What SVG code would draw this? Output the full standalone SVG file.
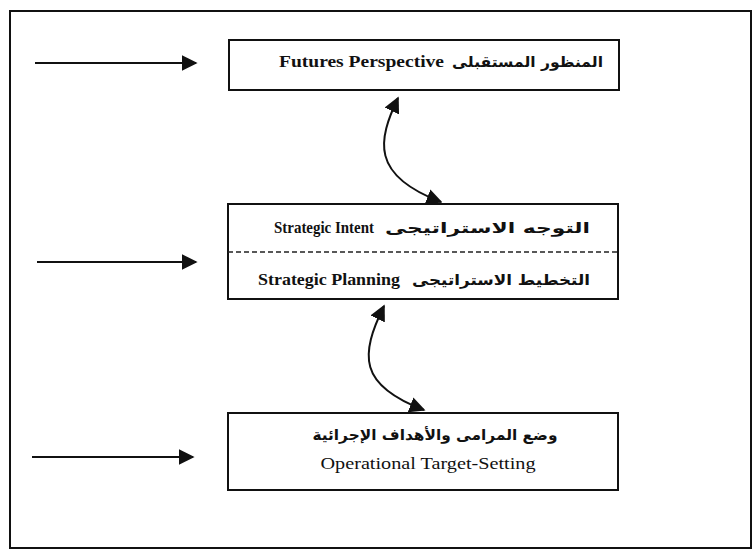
<svg xmlns="http://www.w3.org/2000/svg" width="754" height="550" viewBox="0 0 754 550">
  <style>
    .frame { fill: none; stroke: #111; stroke-width: 2; }
    .box { fill: #fff; stroke: #111; stroke-width: 2; }
    .divider { stroke: #222; stroke-width: 1.3; stroke-dasharray: 5 3; }
    .conn { fill: none; stroke: #111; stroke-width: 2; }
    .en { font-family: "Liberation Serif", "Times New Roman", serif; font-size: 16px; fill: #111; }
    .enb { font-weight: bold; }
    .ar { font-family: "DejaVu Sans", "Noto Sans", sans-serif; font-weight: bold; font-size: 15px; fill: #111; }
  </style>
  <defs>
    <marker id="head" viewBox="0 0 10 10" refX="9" refY="5" markerWidth="8" markerHeight="8" markerUnits="strokeWidth" orient="auto-start-reverse">
      <path d="M0,0 L10,5 L0,10 Z" fill="#111"/>
    </marker>
  </defs>

  <rect x="0" y="0" width="754" height="550" fill="#fff"/>

  <!-- outer frame -->
  <rect class="frame" x="10" y="11" width="741" height="537"/>

  <!-- top level -->
  <g id="futures-perspective">
    <rect class="box" x="229" y="40" width="390" height="50"/>
    <text class="en enb" x="279" y="67" textLength="165" lengthAdjust="spacingAndGlyphs">Futures Perspective</text>
    <text class="ar" x="603" y="67" text-anchor="end" textLength="151" lengthAdjust="spacingAndGlyphs">المنظور المستقبلى</text>
  </g>

  <!-- middle level -->
  <g id="strategic-intent-planning">
    <rect class="box" x="228" y="204" width="390" height="95"/>
    <line class="divider" x1="228" y1="252" x2="618" y2="252"/>
    <text class="en enb" x="274" y="233" font-size="14" textLength="100" lengthAdjust="spacingAndGlyphs">Strategic Intent</text>
    <text class="ar" x="590" y="233" text-anchor="end" textLength="205" lengthAdjust="spacingAndGlyphs">التوجه الاستراتيجى</text>
    <text class="en enb" x="258" y="285" font-size="15" textLength="142" lengthAdjust="spacingAndGlyphs">Strategic Planning</text>
    <text class="ar" x="590" y="285" text-anchor="end" textLength="178" lengthAdjust="spacingAndGlyphs">التخطيط الاستراتيجى</text>
  </g>

  <!-- bottom level -->
  <g id="operational-target-setting">
    <rect class="box" x="228" y="413" width="390" height="77"/>
    <text class="ar" x="435" y="440" text-anchor="middle" textLength="245" lengthAdjust="spacingAndGlyphs">وضع المرامى والأهداف الإجرائية</text>
    <text class="en" x="428" y="469" text-anchor="middle" textLength="215" lengthAdjust="spacingAndGlyphs">Operational Target-Setting</text>
  </g>

  <!-- connectors -->
  <g id="connectors">
    <line class="conn" x1="35" y1="63" x2="196" y2="63" marker-end="url(#head)"/>
    <line class="conn" x1="37" y1="262" x2="196" y2="262" marker-end="url(#head)"/>
    <line class="conn" x1="32" y1="457" x2="193" y2="457" marker-end="url(#head)"/>
    <path class="conn" d="M398,98 C378,140 370,175 441,202" marker-start="url(#head)" marker-end="url(#head)"/>
    <path class="conn" d="M384,306 C360,355 358,385 424,410" marker-start="url(#head)" marker-end="url(#head)"/>
  </g>
</svg>
